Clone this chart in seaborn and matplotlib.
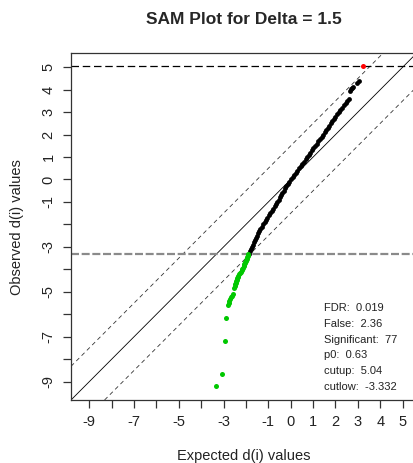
import matplotlib
matplotlib.use("Agg")
import matplotlib.pyplot as plt
import seaborn as sns
import pandas as pd

delta = 1.5
cutup = 5.04
cutlow = -3.332
lims = (-9.82, 5.62)

# observed vs expected d(i)
black_x = [-1.88, -1.83, -1.78, -1.73, -1.68, -1.64, -1.59, -1.55, -1.50, -1.45,
           -1.40, -1.36, -1.30, -1.24, -1.17, -1.11, -1.05, -0.98, -0.91, -0.85,
           -0.78, -0.71, -0.65, -0.60, -0.54, -0.48, -0.43, -0.37, -0.31, -0.25,
           -0.19, -0.14, -0.06, 0.01, 0.08, 0.16, 0.23, 0.30, 0.37, 0.45,
           0.52, 0.59, 0.66, 0.73, 0.80, 0.87, 0.94, 1.01, 1.08, 1.16,
           1.23, 1.30, 1.38, 1.45, 1.52, 1.59, 1.66, 1.73, 1.80, 1.86,
           1.93, 2.00, 2.07, 2.14, 2.21, 2.29, 2.37, 2.45, 2.53, 2.59,
           2.64, 2.69, 2.74, 2.79, 2.95, 3.07]
black_y = [-3.30, -3.20, -3.10, -3.00, -2.90, -2.80, -2.70, -2.60, -2.50, -2.40,
           -2.30, -2.20, -2.10, -2.00, -1.90, -1.80, -1.70, -1.60, -1.50, -1.40,
           -1.30, -1.20, -1.10, -1.00, -0.90, -0.80, -0.70, -0.60, -0.50, -0.40,
           -0.30, -0.20, -0.10, 0.00, 0.10, 0.20, 0.30, 0.40, 0.50, 0.60,
           0.70, 0.80, 0.90, 1.00, 1.10, 1.20, 1.30, 1.40, 1.50, 1.60,
           1.70, 1.80, 1.90, 2.00, 2.10, 2.20, 2.30, 2.40, 2.50, 2.60,
           2.70, 2.80, 2.90, 3.00, 3.10, 3.20, 3.30, 3.40, 3.50, 3.58,
           3.95, 4.02, 4.08, 4.14, 4.28, 4.40]

green_x = [-1.90, -1.92, -1.93, -1.95, -1.97, -1.99, -2.01, -2.03, -2.05, -2.07,
           -2.09, -2.11, -2.14, -2.16, -2.19, -2.22, -2.26, -2.30, -2.34, -2.37,
           -2.39, -2.41, -2.43, -2.45, -2.48, -2.51, -2.55, -2.57, -2.62, -2.66,
           -2.70, -2.74, -2.78, -2.81, -2.88, -2.96, -3.08, -3.36]
green_y = [-3.34, -3.38, -3.42, -3.47, -3.52, -3.57, -3.62, -3.67, -3.72, -3.77,
           -3.82, -3.87, -3.93, -3.98, -4.04, -4.10, -4.16, -4.22, -4.28, -4.34,
           -4.40, -4.46, -4.53, -4.60, -4.67, -4.74, -4.82, -5.10, -5.18, -5.24,
           -5.32, -5.40, -5.50, -5.58, -6.15, -7.21, -8.65, -9.21]

red_x = [3.25]
red_y = [5.04]

stat_names = ["FDR:", "False:", "Significant:", "p0:", "cutup:", "cutlow:"]
stat_values = ["0.019", "2.36", "77", "0.63", "5.04", "-3.332"]

x_ticks = list(range(-9, 6))
x_labels = ["-9", "", "-7", "", "-5", "", "-3", "", "-1", "0", "1", "2", "3", "4", "5"]
y_ticks = list(range(-9, 6))
y_labels = ["-9", "", "-7", "", "-5", "", "-3", "", "-1", "0", "1", "2", "3", "4", "5"]


def sam_plot():
    sns.set_theme(style="ticks")
    plt.rcParams["font.family"] = ["Liberation Sans", "DejaVu Sans"]

    fig = plt.figure(figsize=(4.14, 4.63), dpi=100)
    ax = fig.add_axes([71 / 414, 1 - 400 / 463, 345.5 / 414, 346.7 / 463])

    ax.axline((0, 0), slope=1, color="black", lw=0.6)
    ax.axline((0, delta), slope=1, color="#333333", lw=0.6, dashes=(5, 4))
    ax.axline((0, -delta), slope=1, color="#333333", lw=0.6, dashes=(5, 4))
    ax.axhline(cutup, color="black", lw=0.9, dashes=(6, 3))
    ax.axhline(cutlow, color="#8a8a8a", lw=1.6, dashes=(3.6, 1.2))

    df_b = pd.DataFrame({"exp": black_x, "obs": black_y})
    df_g = pd.DataFrame({"exp": green_x, "obs": green_y})
    df_r = pd.DataFrame({"exp": red_x, "obs": red_y})
    sns.scatterplot(data=df_b, x="exp", y="obs", color="black", s=12, linewidth=0, ax=ax, zorder=3)
    sns.scatterplot(data=df_g, x="exp", y="obs", color="#00c800", s=13, linewidth=0, ax=ax, zorder=3)
    sns.scatterplot(data=df_r, x="exp", y="obs", color="#ff0000", s=13, linewidth=0, ax=ax, zorder=3)

    for i, (n, v) in enumerate(zip(stat_names, stat_values)):
        ax.text(1.48, -5.72 - 0.705 * i, n + "  " + v, fontsize=8, color="#222222",
                ha="left", va="center")

    ax.set_xlim(lims)
    ax.set_ylim(lims)
    ax.set_xticks(x_ticks)
    ax.set_xticklabels(x_labels)
    ax.set_yticks(y_ticks)
    ax.set_yticklabels(y_labels, rotation=90, va="center")
    ax.tick_params(axis="both", length=6, width=0.9, color="#333333", labelsize=10.5,
                   labelcolor="#222222", pad=5)
    for sp in ax.spines.values():
        sp.set_color("#333333")
        sp.set_linewidth(0.9)

    ax.set_xlabel("Expected d(i) values", fontsize=10.5, color="#222222", labelpad=14)
    ax.set_ylabel("Observed d(i) values", fontsize=10.5, color="#222222", labelpad=13)
    ax.set_title("SAM Plot for Delta = 1.5", fontsize=12.5, fontweight="bold", pad=21)

    fig.savefig("out.png", dpi=100)


sam_plot()
